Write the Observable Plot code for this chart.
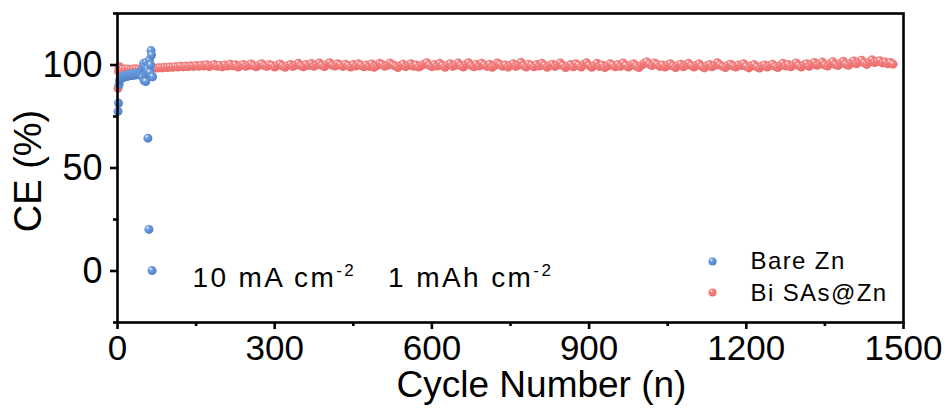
<!DOCTYPE html>
<html><head><meta charset="utf-8">
<script src="https://cdn.jsdelivr.net/npm/d3@7"></script>
<script src="https://cdn.jsdelivr.net/npm/@observablehq/plot@0.6"></script>
<style>
html,body{margin:0;padding:0;background:#fff;}
</style></head><body><div id="chart"></div>
<script>
// ---- data ----
const bareCycle = [1,2,3,4,5,6,7,8,9,10,11,12,13,14,15,16,17,18,19,20,21,22,23,24,25,26,27,28,29,30,31,32,33,34,35,36,37,38,39,40,41,42,43,44,45,46,47,48,49,50,51,52,53,54,55,56,57,58,59,60,61,62,63,64,65,66,67];
const bareCE = [77.5,81.5,90.5,92.5,93.2,93.8,94.2,93.6,94.5,94.0,94.6,94.3,94.8,94.2,94.7,95.0,94.4,94.9,95.2,94.6,95.0,95.3,94.8,95.2,95.5,94.9,95.3,95.6,95.0,95.4,95.7,95.1,95.5,95.8,95.2,95.7,96.0,95.4,95.9,96.2,95.6,96.1,96.5,95.8,96.8,95.3,97.4,94.0,98.6,100.8,92.3,99.4,95.0,92.0,101.2,96.0,98.0,64.5,97.0,20.2,102.4,96.4,100.0,107.0,104.8,0.2,94.3];

const biEarlyCycle = [1,2,3,4];
const biEarlyCE = [88.7,96.8,98.6,99.2];
// cycles 5, 10, 15 ... 1480
const biCE = [
98.3,98.0,97.9,98.1,97.8,98.0,98.2,97.9,98.1,98.3,
98.2,98.4,98.3,98.6,98.5,98.7,98.6,98.9,98.8,99.0,
98.9,99.2,99.0,99.4,99.1,99.5,99.2,99.6,99.3,99.7,
99.4,99.9,99.5,100.1,99.2,99.7,100.2,99.4,99.8,99.1,
100.0,99.5,100.4,99.6,100.1,99.0,99.7,100.3,99.4,99.9,
100.5,99.6,99.1,99.9,100.6,99.7,99.3,100.2,99.8,99.0,
99.9,100.5,99.5,98.9,99.8,100.2,99.3,100.0,100.8,99.6,
99.1,100.3,99.8,100.7,99.4,100.1,101.0,99.8,99.2,100.4,
101.1,99.9,99.5,100.6,100.0,99.3,100.4,99.7,99.0,100.2,
99.5,100.6,99.8,99.1,100.0,99.3,100.5,98.9,99.7,100.8,
100.3,99.4,99.9,101.0,100.1,99.5,98.8,99.7,100.4,99.2,
99.9,100.6,99.4,100.0,99.0,99.7,100.4,101.1,99.9,99.2,
100.2,99.5,100.8,99.7,98.9,100.0,100.6,99.3,99.9,101.0,
99.7,99.0,100.2,101.1,99.8,99.1,100.4,99.5,100.8,100.0,
99.3,100.4,98.9,99.7,101.0,100.2,99.4,100.0,99.0,99.9,
100.6,99.3,100.0,101.3,99.7,99.0,100.4,99.8,99.1,100.2,
99.5,100.8,99.8,98.9,99.7,100.4,99.3,100.0,101.0,99.7,
98.8,99.5,100.2,99.1,100.6,99.8,99.0,100.4,101.1,99.7,
98.9,99.8,100.8,99.3,100.0,98.7,99.5,100.6,99.9,99.1,
100.2,99.3,101.0,99.7,99.0,100.0,100.6,99.5,98.8,99.9,
100.8,101.5,100.4,99.7,101.0,100.2,99.3,100.0,99.0,99.9,
100.6,99.5,98.8,99.9,100.4,99.1,100.0,100.8,99.7,99.0,
99.9,100.6,99.3,98.6,99.7,100.2,99.1,99.9,101.1,100.0,
99.3,98.8,99.9,100.4,99.5,99.0,100.0,99.7,100.6,99.3,
98.6,99.7,100.2,99.1,98.5,99.5,100.0,99.0,99.7,100.4,
99.3,98.8,99.9,100.8,99.5,100.2,99.1,100.0,101.0,99.7,
99.0,100.0,100.6,99.3,100.2,101.2,99.9,100.4,101.4,100.0,
99.5,100.6,101.6,100.2,99.7,100.8,101.8,100.4,99.9,101.0,
102.0,100.6,101.4,102.3,101.0,100.3,101.5,102.5,101.2,101.7,
102.1,101.0,101.5,100.6,101.2,100.4
];
const biCycle = biEarlyCycle.concat(d3.range(5, 1481, 5));
const biAll = biEarlyCE.concat(biCE);

const xTicks = [0,300,600,900,1200,1500];
const xMinor = [150,450,750,1050,1350];
const yTicks = [0,50,100];
const yMinor = [-25,25,75,125];

const xLabel = "Cycle Number (n)";
const yLabel = "CE (%)";
const seriesNames = ["Bare Zn","Bi SAs@Zn"];
const annoText = "10 mA cm-2 1 mAh cm-2";

const bare = bareCycle.map((c,i)=>({cycle:c, ce:bareCE[i]}));
const bi = biCycle.map((c,i)=>({cycle:c, ce:biAll[i]}));

const font = "'Liberation Sans', Arial, sans-serif";

const plot = Plot.plot({
  width: 952, height: 409,
  marginLeft: 117, marginRight: 49, marginTop: 13, marginBottom: 87,
  style: {fontFamily: font, color: "black", background: "white", overflow: "visible"},
  x: {domain: [0,1500]},
  y: {domain: [-25,125]},
  marks: [
    Plot.dot(bi, {x:"cycle", y:"ce", r:4.5, fill:"url(#gRed)", stroke:"none"}),
    Plot.dot(bare, {x:"cycle", y:"ce", r:4.5, fill:"url(#gBlue)", stroke:"none"}),
    Plot.frame({stroke:"black", strokeWidth:2.6}),
    Plot.axisX(xTicks, {tickSize:7, tickPadding:6, strokeWidth:2.6, fontSize:35, tickFormat:d=>String(d), label:null}),
    Plot.axisX(xMinor, {tickSize:4, strokeWidth:2.6, tickFormat:()=>"", label:null}),
    Plot.axisY(yTicks, {tickSize:7, tickPadding:8, strokeWidth:2.6, fontSize:36, tickFormat:d=>String(d), label:null}),
    Plot.axisY(yMinor, {tickSize:4, strokeWidth:2.6, tickFormat:()=>"", label:null}),
    Plot.text([yLabel], {frameAnchor:"left", dx:-89, dy:3, rotate:-90, textAnchor:"middle", lineAnchor:"middle", fontSize:38, text:d=>d}),
    Plot.text([xLabel], {frameAnchor:"bottom", dx:31, dy:63, textAnchor:"middle", lineAnchor:"middle", fontSize:37, text:d=>d}),
    Plot.text([annoText], {frameAnchor:"bottom-left", dx:75, dy:-44, textAnchor:"start", lineAnchor:"middle", fontSize:28, text:d=>d}),
    Plot.dot([0], {frameAnchor:"bottom-right", dx:-191, dy:-61, r:4, fill:"url(#gBlue)", stroke:"none"}),
    Plot.dot([0], {frameAnchor:"bottom-right", dx:-191, dy:-30, r:4, fill:"url(#gRed)", stroke:"none"}),
    Plot.text([seriesNames[0]], {frameAnchor:"bottom-right", dx:-153, dy:-61.5, textAnchor:"start", lineAnchor:"middle", fontSize:24, text:d=>d}),
    Plot.text([seriesNames[1]], {frameAnchor:"bottom-right", dx:-153, dy:-29, textAnchor:"start", lineAnchor:"middle", fontSize:24, text:d=>d})
  ]
});

const svg = d3.select(plot);
const defs = svg.insert("defs", ":first-child");
function grad(id, c1, c2) {
  const g = defs.append("radialGradient").attr("id", id).attr("cx","38%").attr("cy","35%").attr("r","65%").attr("fx","35%").attr("fy","30%");
  g.append("stop").attr("offset","0%").attr("stop-color","#ffffff");
  g.append("stop").attr("offset","30%").attr("stop-color",c1);
  g.append("stop").attr("offset","100%").attr("stop-color",c2);
}
grad("gBlue", "#6f9fe0", "#4f80c8");
grad("gRed", "#f48080", "#ea6c6c");

svg.selectAll("text").each(function(){
  const t = d3.select(this);
  const s = this.textContent;
  if (s === annoText) {
    t.text(null).attr("letter-spacing","2.4");
    t.append("tspan").text("10 mA cm");
    t.append("tspan").attr("dy",-11).attr("font-size",17).text("-2");
    t.append("tspan").attr("dy",11).attr("dx",32).text("1 mAh cm");
    t.append("tspan").attr("dy",-11).attr("font-size",17).text("-2");
  } else if (s === seriesNames[0] || s === seriesNames[1]) {
    t.attr("letter-spacing","1.4");
  }
});

document.getElementById("chart").appendChild(plot);
</script></body></html>
